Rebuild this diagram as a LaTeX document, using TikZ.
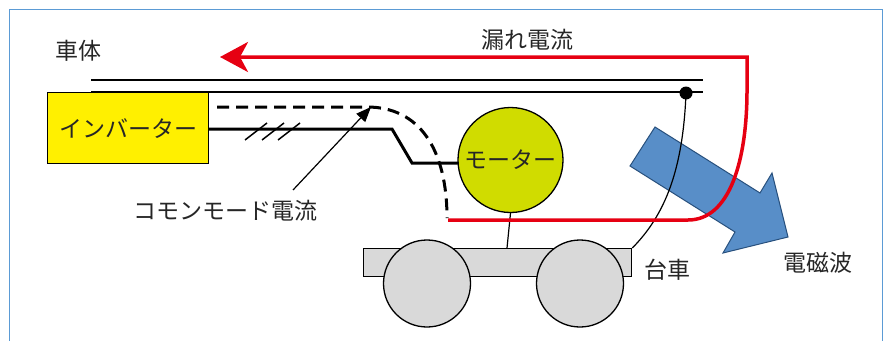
\documentclass[tikz,border=0pt]{standalone}
\usepackage{fontspec}
\newfontfamily\jp{Noto Sans CJK JP}
\usetikzlibrary{arrows.meta}
\definecolor{frameblue}{RGB}{91,155,213}
\definecolor{invyellow}{RGB}{255,240,0}
\definecolor{motorgreen}{RGB}{208,220,0}
\definecolor{leakred}{RGB}{230,0,18}
\definecolor{wavefill}{RGB}{88,142,200}
\definecolor{waveedge}{RGB}{40,80,125}
\definecolor{bogiegray}{RGB}{217,217,217}
\begin{document}
\begin{tikzpicture}[x=1pt,y=-1pt,
  txt/.style={font=\jp\fontsize{23}{27}\selectfont, text=black!85, inner sep=0pt},
  part/.style={draw, line width=1.3pt},
  cable/.style={line width=3pt},
  leak/.style={leakred, line width=3.5pt, line join=miter},
  thin/.style={line width=1.2pt}]
\useasboundingbox (0,0) rectangle (885,340);
% frame
\draw[frameblue, line width=1pt] (9,9) rectangle (882,352);

% car body (two lines)
\coordinate (b1l) at (91,80);  \coordinate (b1r) at (703,80);
\coordinate (b2l) at (91,92);  \coordinate (b2r) at (703,92);
\draw[thin] (b1l) -- (b1r);
\draw[thin] (b2l) -- (b2r);

% inverter
\node[part, fill=invyellow, anchor=north west, minimum width=161pt, minimum height=71pt, txt] (inv) at (47,92) {インバーター};

% motor
\node[part, circle, fill=motorgreen, minimum size=105pt, txt] (motor) at (510.5,160) {モーター};

% bogie and wheels
\node[part, fill=bogiegray, anchor=north west, minimum width=268pt, minimum height=28pt] (bogie) at (363,248) {};
\node[part, circle, fill=bogiegray, minimum size=87pt] (wl) at (427,283.5) {};
\node[part, circle, fill=bogiegray, minimum size=87pt] (wr) at (580,283.5) {};
\coordinate (mount) at (507,248);
\draw[thin] (motor.south) -- (mount);

% electromagnetic wave arrow
\path[fill=wavefill, draw=waveedge, line width=1pt, line join=miter]
  (655,127) coordinate (w1) -- (760,193) coordinate (w2) -- (772,173) coordinate (w3)
  -- (788,237) coordinate (w4) -- (723,253) coordinate (w5) -- (735,232) coordinate (w6)
  -- (630,166) coordinate (w7) -- cycle;

% ground wire from body to bogie
\coordinate (gnd) at (686,93);
\draw[thin] (gnd) .. controls (683,170) and (665,215) .. (bogie.north east);
\fill (gnd) circle (6.5pt);

% three-phase cable
\coordinate (c0) at (208,129);
\coordinate (c1) at (392,129);
\coordinate (c2) at (412,163);
\coordinate (c3) at (458,163);
\draw[cable] (c0) -- (c1) -- (c2) -- (c3);
\foreach \x in {245,262,278}
  \draw[line width=1.5pt] (\x,140) -- (\x+22,123);

% common-mode current path
\coordinate (d0) at (217,107);
\coordinate (d1) at (367,107);
\coordinate (d2) at (447,218);
\draw[cable, dash pattern=on 12pt off 7pt] (d0) -- (d1) .. controls (420,107) and (447,150) .. (d2);

% leakage current path
\coordinate (r0) at (448,220);
\coordinate (r1) at (688,220);
\coordinate (r2) at (747,90);
\coordinate (r3) at (747,57);
\coordinate (r4) at (220,57);
\draw[leak, -{Stealth[length=28pt, width=30pt, inset=8pt]}]
  (r0) -- (r1) .. controls (730,220) and (747,160) .. (r2) -- (r3) -- (r4);

% labels
\node[txt] (lbody) at (78,51) {車体};
\node[txt] (lleak) at (527,40) {漏れ電流};
\node[txt] (lcm) at (225,211) {コモンモード電流};
\node[txt] (lbogie) at (667,270) {台車};
\node[txt] (lwave) at (818,263) {電磁波};

% pointer to the common-mode path
\coordinate (ptail) at (293,190);
\coordinate (ptip) at (371,107);
\draw[line width=1.2pt, -{Triangle[length=15pt, width=12pt]}] (ptail) -- (ptip);
\end{tikzpicture}
\end{document}
